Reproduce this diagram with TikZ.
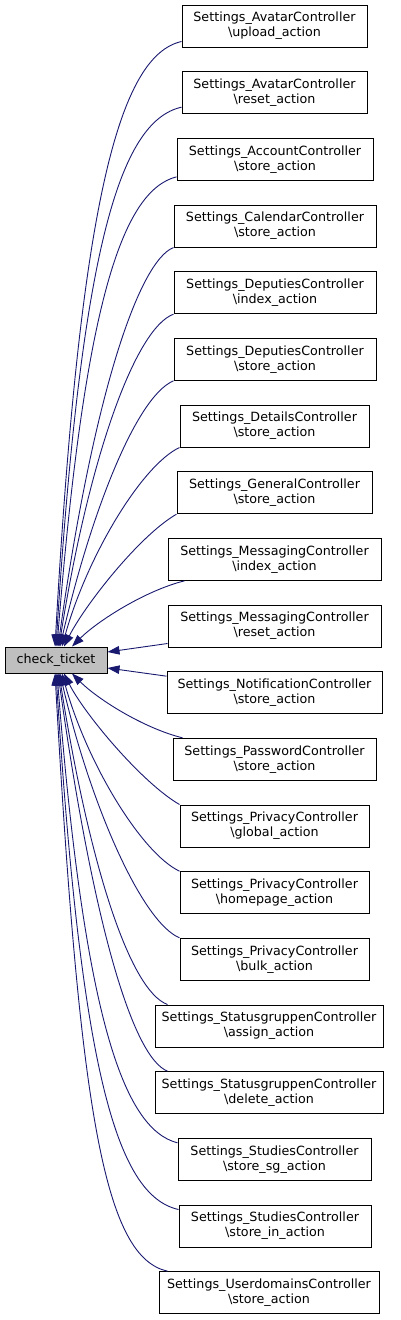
\documentclass[tikz,border=0pt]{standalone}
\usepackage{fontspec}
\setmainfont{DejaVu Sans}
\usepackage{tikz}
\usepackage{xcolor}
\usetikzlibrary{arrows.meta}

\definecolor{edgeblue}{HTML}{191970}
\definecolor{focusgray}{HTML}{BFBFBF}

\begin{document}
\begin{tikzpicture}[
            x=1pt, y=-1pt,
            fn/.style={rectangle, draw=black, line width=1pt, inner xsep=2pt, inner ysep=0pt,
                       align=center, font=\fontsize{12.7}{15}\selectfont},
            focus/.style={fn, fill=focusgray, minimum width=102pt, minimum height=26pt},
            caller/.style={fn, fill=white, minimum height=42pt},
            edge/.style={-{Triangle[length=12pt,width=8.5pt]}, edgeblue, line width=0.9pt}
        ]
            \useasboundingbox (0,0) rectangle (400,1320);

            % Function
            \node[focus] (ticket) at (56,660) {check\_ticket};

            % Callers
            \node[caller, minimum width=185pt] (avup) at (274.5,26) {Settings\_AvatarController\\\textbackslash upload\_action};
            \node[caller, minimum width=185pt] (avreset) at (274.5,92.67) {Settings\_AvatarController\\\textbackslash reset\_action};
            \node[caller, minimum width=196pt] (accstore) at (275,159.33) {Settings\_AccountController\\\textbackslash store\_action};
            \node[caller, minimum width=202pt] (calstore) at (275,226) {Settings\_CalendarController\\\textbackslash store\_action};
            \node[caller, minimum width=202pt] (depindex) at (275,292.67) {Settings\_DeputiesController\\\textbackslash index\_action};
            \node[caller, minimum width=202pt] (depstore) at (275,359.33) {Settings\_DeputiesController\\\textbackslash store\_action};
            \node[caller, minimum width=189pt] (detstore) at (274.5,426) {Settings\_DetailsController\\\textbackslash store\_action};
            \node[caller, minimum width=195pt] (genstore) at (274.5,492.67) {Settings\_GeneralController\\\textbackslash store\_action};
            \node[caller, minimum width=213pt] (msgindex) at (274.5,559.33) {Settings\_MessagingController\\\textbackslash index\_action};
            \node[caller, minimum width=213pt] (msgreset) at (274.5,626) {Settings\_MessagingController\\\textbackslash reset\_action};
            \node[caller, minimum width=215pt] (notstore) at (274.5,692.67) {Settings\_NotificationController\\\textbackslash store\_action};
            \node[caller, minimum width=203pt] (pwstore) at (274.5,759.33) {Settings\_PasswordController\\\textbackslash store\_action};
            \node[caller, minimum width=189pt] (privglobal) at (274.5,826) {Settings\_PrivacyController\\\textbackslash global\_action};
            \node[caller, minimum width=189pt] (privhome) at (274.5,892.67) {Settings\_PrivacyController\\\textbackslash homepage\_action};
            \node[caller, minimum width=189pt] (privbulk) at (274.5,959.33) {Settings\_PrivacyController\\\textbackslash bulk\_action};
            \node[caller, minimum width=228pt] (sgassign) at (269,1026) {Settings\_StatusgruppenController\\\textbackslash assign\_action};
            \node[caller, minimum width=228pt] (sgdelete) at (269,1092.67) {Settings\_StatusgruppenController\\\textbackslash delete\_action};
            \node[caller, minimum width=193pt] (stusg) at (274.5,1159.33) {Settings\_StudiesController\\\textbackslash store\_sg\_action};
            \node[caller, minimum width=192pt] (stuin) at (275,1226) {Settings\_StudiesController\\\textbackslash store\_in\_action};
            \node[caller, minimum width=220pt] (udstore) at (269,1292.67) {Settings\_UserdomainsController\\\textbackslash store\_action};

            % Edges above
            \draw[edge] ([yshift=6pt]avup.south west) .. controls +(-62,14) and +(25,-447) .. ([xshift=-1pt]ticket.north);
            \draw[edge] ([yshift=7pt]avreset.south west) .. controls +(-62,14) and +(25,-398) .. (ticket.north);
            \draw[edge] ([yshift=4pt]accstore.south west) .. controls +(-55,14) and +(27,-340) .. ([xshift=1pt]ticket.north);
            \draw[edge] (calstore.south west) .. controls +(-35,14) and +(35,-250) .. ([xshift=2pt]ticket.north);
            \draw[edge] (depindex.south west) .. controls +(-38,14) and +(30,-190) .. ([xshift=3pt]ticket.north);
            \draw[edge] (depstore.south west) .. controls +(-38,16) and +(30,-130) .. ([xshift=4pt]ticket.north);
            \draw[edge] (detstore.south west) .. controls +(-38,18) and +(25,-90) .. ([xshift=6pt]ticket.north);
            \draw[edge] (genstore.south west) .. controls +(-38,22) and +(20,-40) .. ([xshift=8pt]ticket.north);
            \draw[edge] ([xshift=17pt]msgindex.south west) .. controls +(-40,10) and +(25,-25) .. ([xshift=16pt]ticket.north);

            % Edges beside
            \draw[edge] ([yshift=4pt]msgreset.south west) -- ([yshift=8pt]ticket.east);
            \draw[edge] ([yshift=-5pt]notstore.north west) -- ([yshift=-8pt]ticket.east);

            % Edges below
            \draw[edge] ([xshift=10pt]pwstore.north west) .. controls +(-40,-10) and +(25,25) .. ([xshift=16pt]ticket.south);
            \draw[edge] (privglobal.north west) .. controls +(-38,-22) and +(20,40) .. ([xshift=8pt]ticket.south);
            \draw[edge] (privhome.north west) .. controls +(-38,-18) and +(25,90) .. ([xshift=6pt]ticket.south);
            \draw[edge] (privbulk.north west) .. controls +(-38,-16) and +(30,130) .. ([xshift=4pt]ticket.south);
            \draw[edge] ([xshift=13pt]sgassign.north west) .. controls +(-38,-14) and +(30,190) .. ([xshift=3pt]ticket.south);
            \draw[edge] ([xshift=13pt]sgdelete.north west) .. controls +(-35,-14) and +(35,250) .. ([xshift=2pt]ticket.south);
            \draw[edge] ([yshift=-5pt]stusg.north west) .. controls +(-55,-14) and +(27,340) .. ([xshift=1pt]ticket.south);
            \draw[edge] ([yshift=-5pt]stuin.north west) .. controls +(-62,-14) and +(25,398) .. (ticket.south);
            \draw[edge] ([xshift=9pt]udstore.north west) .. controls +(-62,-14) and +(25,447) .. ([xshift=-1pt]ticket.south);
        \end{tikzpicture}
\end{document}
